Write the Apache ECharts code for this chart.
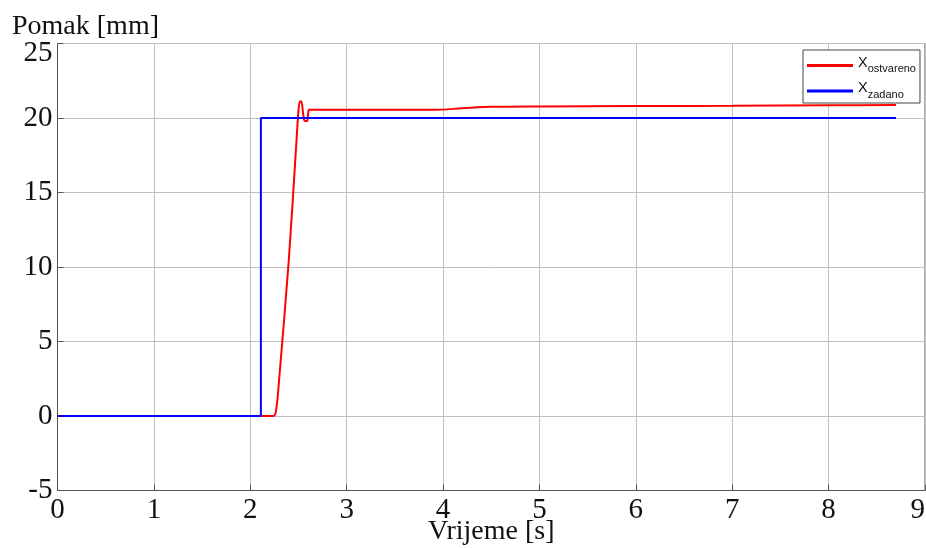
<!DOCTYPE html>
<html>
<head>
<meta charset="utf-8">
<script src="https://cdn.jsdelivr.net/npm/echarts@6/dist/echarts.min.js"></script>
<style>html,body{margin:0;padding:0;background:#fff}#c{width:926px;height:548px}</style>
</head>
<body>
<div id="c"></div>
<script>
// Time stamps [s] and values [mm]
const ostvarenoT = [0, 2.24, 2.27, 2.30, 2.40, 2.47, 2.50, 2.515, 2.53, 2.55, 2.565, 2.59, 2.60, 2.61, 3.9, 4.2, 4.5, 5.0, 6.0, 7.0, 8.0, 8.7];
const ostvarenoV = [0, 0, 0.5, 2.5, 10.5, 17.5, 20.5, 21.1, 21.1, 20.2, 19.8, 19.8, 20.3, 20.55, 20.55, 20.65, 20.75, 20.78, 20.8, 20.82, 20.85, 20.87];
const zadanoT = [0, 2.11, 2.11, 8.7];
const zadanoV = [0, 0, 20, 20];
const xTicks = [0, 1, 2, 3, 4, 5, 6, 7, 8, 9];
const yTicks = [-5, 0, 5, 10, 15, 20, 25];

const pair = (t, v) => t.map((x, i) => [x, v[i]]);
const serif = 'Liberation Serif';
const yMax = yTicks[yTicks.length - 1];

const chart = echarts.init(document.getElementById('c'), null, {renderer: 'canvas'});
chart.setOption({
  animation: false,
  backgroundColor: '#fff',
  grid: {left: 57.5, right: 1, top: 43.5, bottom: 57.5, outerBoundsMode: 'none', containLabel: false, show: true, borderColor: '#555', borderWidth: 1, backgroundColor: '#fff'},
  xAxis: {
    type: 'value', min: xTicks[0], max: xTicks[xTicks.length - 1], interval: 1,
    name: 'Vrijeme [s]', nameLocation: 'middle', nameGap: 27, nameMoveOverlap: false,
    nameTextStyle: {fontFamily: serif, fontSize: 28, color: '#111'},
    axisLine: {show: true, onZero: false, lineStyle: {color: '#555'}},
    axisTick: {show: true, inside: true, length: 6, lineStyle: {color: '#555'}},
    axisLabel: {fontFamily: serif, fontSize: 29, color: '#111', margin: 5, alignMaxLabel: 'right'},
    splitLine: {show: true, lineStyle: {color: '#c0c0c0', width: 1}}
  },
  yAxis: {
    type: 'value', min: yTicks[0], max: yMax, interval: 5,
    axisLine: {show: true, onZero: false, lineStyle: {color: '#555'}},
    axisTick: {show: true, inside: true, length: 6, lineStyle: {color: '#555'}},
    axisLabel: {
      fontFamily: serif, fontSize: 29, color: '#111', margin: 5,
      formatter: v => v === yMax ? '{t|' + v + '}' : String(v),
      rich: {t: {fontFamily: serif, fontSize: 29, color: '#111', padding: [20, 0, 0, 0]}}
    },
    splitLine: {show: true, lineStyle: {color: '#c0c0c0', width: 1}}
  },
  graphic: [{type: 'text', left: 12, top: 13, style: {text: 'Pomak [mm]', font: '28px "Liberation Serif"', fill: '#111'}}],
  legend: {
    orient: 'vertical', left: 803, top: 50, width: 115,
    backgroundColor: '#fff', borderColor: '#444', borderWidth: 1,
    padding: [5, 4, 3, 4], itemGap: 6,
    itemWidth: 46, itemHeight: 3, icon: 'rect',
    data: ['ostvareno', 'zadano'],
    formatter: n => '{a|X}{b|' + n + '}',
    textStyle: {
      rich: {
        a: {fontFamily: 'Liberation Sans', fontSize: 14.5, color: '#111', padding: [0, 0, 6, 0]},
        b: {fontFamily: 'Liberation Sans', fontSize: 11, color: '#111', padding: [7, 0, 0, 0]}
      }
    }
  },
  series: [
    {name: 'ostvareno', type: 'line', data: pair(ostvarenoT, ostvarenoV), showSymbol: false, smooth: 0.3, lineStyle: {color: '#ff0000', width: 2}, itemStyle: {color: '#ff0000'}, z: 2},
    {name: 'zadano', type: 'line', data: pair(zadanoT, zadanoV), showSymbol: false, lineStyle: {color: '#0000ff', width: 2}, itemStyle: {color: '#0000ff'}, z: 3}
  ]
});
</script>
</body>
</html>
